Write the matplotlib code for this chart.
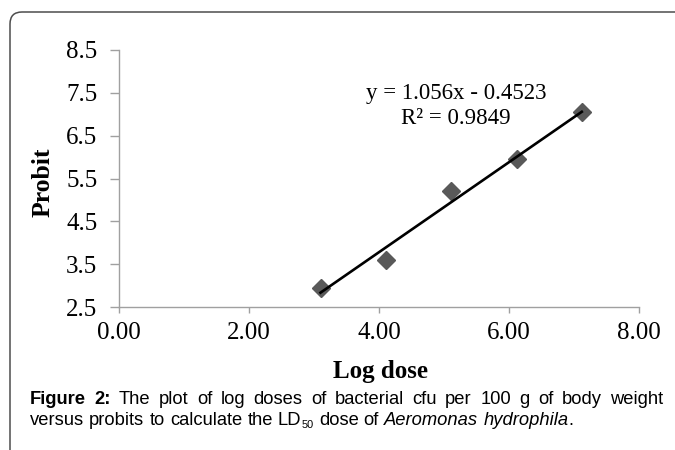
import numpy as np
import matplotlib.pyplot as plt
from matplotlib.patches import FancyBboxPatch
from matplotlib.transforms import IdentityTransform

# === Data ===
log_dose = [3.10, 4.11, 5.11, 6.12, 7.12]
probit = [2.95, 3.59, 5.20, 5.95, 7.05]
x_ticks = [0, 2, 4, 6, 8]
y_ticks = [2.5, 3.5, 4.5, 5.5, 6.5, 7.5, 8.5]
eq_text = "y = 1.056x - 0.4523"
r2_text = "R² = 0.9849"
caption_line1 = "The plot of log doses of bacterial cfu per 100 g of body weight"
caption_line2 = "versus probits to calculate the"
species = "Aeromonas hydrophila"

W, H = 675, 450
fig = plt.figure(figsize=(W / 100, H / 100), dpi=100)
serif = "Liberation Serif"
sans = "Liberation Sans"

# outer rounded frame (runs off the right and bottom edges)
frame = FancyBboxPatch((10, -40), W + 60, H + 40 - 12, boxstyle="round,pad=0,rounding_size=12",
                       transform=IdentityTransform(), fill=False, edgecolor="#4d4d4d", linewidth=1.1)
fig.patches.append(frame)

# === Axes ===
ax = fig.add_axes([119 / W, 1 - 307 / H, 520 / W, 257 / H])
ax.set_xlim(0, 8)
ax.set_ylim(2.5, 8.5)
ax.set_xticks(x_ticks)
ax.set_yticks(y_ticks)
ax.set_xticklabels([f"{v:.2f}" for v in x_ticks], family=serif, fontsize=18)
ax.set_yticklabels([f"{v:.1f}" for v in y_ticks], family=serif, fontsize=18)
for s in ["top", "right"]:
    ax.spines[s].set_visible(False)
for s in ["left", "bottom"]:
    ax.spines[s].set_color("#a0a0a0")
    ax.spines[s].set_linewidth(1.0)
ax.tick_params(axis="y", direction="out", length=6.5, width=1.0, color="#a0a0a0", pad=9)
ax.tick_params(axis="x", direction="out", length=4.5, width=1.0, color="#a0a0a0", pad=6)

# points and linear trend line
ax.plot(log_dose, probit, linestyle="none", marker="D", markersize=9.5,
        color="#595959", clip_on=False, zorder=3)
slope, intercept = np.polyfit(log_dose, probit, 1)
xs = np.array([min(log_dose), max(log_dose)])
ax.plot(xs, slope * xs + intercept, color="black", linewidth=1.9, zorder=4)

ax.text(0.648, 0.714, eq_text + "\n" + r2_text, transform=ax.transAxes, ha="center", va="baseline",
        multialignment="center", family=serif, fontsize=16.5, linespacing=1.2)

ax.set_xlabel("Log dose", family=serif, fontsize=18, fontweight="bold")
ax.set_ylabel("Probit", family=serif, fontsize=18.5, fontweight="bold")
ax.xaxis.set_label_coords(0.502, -0.205)
ax.yaxis.set_label_coords(-0.123, 0.486)

# === Caption (line 1 justified) ===
renderer = fig.canvas.get_renderer()
cap_size = 13.2


def put(x_px, y_px, s, **kw):
    t = fig.text(x_px / W, 1 - y_px / H, s, family=sans, fontsize=kw.pop("size", cap_size),
                 va="baseline", ha="left", **kw)
    return t, t.get_window_extent(renderer).width


def measure(s, **kw):
    t, w = put(0, 0, s, **kw)
    t.remove()
    return w


space = measure("x x") - measure("xx")

left, right, base1, base2 = 30, 663, 404, 425
words1 = [("Figure", "bold"), ("2:", "bold")] + [(w, "normal") for w in caption_line1.split()]
widths = [measure(w, fontweight=fw) for w, fw in words1]
gap = (right - left - sum(widths)) / (len(words1) - 1)
x = left
for (w, fw), wd in zip(words1, widths):
    put(x, base1, w, fontweight=fw)
    x += wd + gap

x = left
for w in caption_line2.split():
    _, wd = put(x, base2, w)
    x += wd + space
_, wd = put(x, base2, "LD")
x += wd
_, wd = put(x, base2 + 3.5, "50", size=cap_size * 0.6)
x += wd + space
for w in ["dose", "of"]:
    _, wd = put(x, base2, w)
    x += wd + space
for i, w in enumerate(species.split()):
    _, wd = put(x, base2, w, style="italic")
    x += wd + (space if i == 0 else 0)
put(x, base2, ".")

fig.savefig("out.png", dpi=100)
